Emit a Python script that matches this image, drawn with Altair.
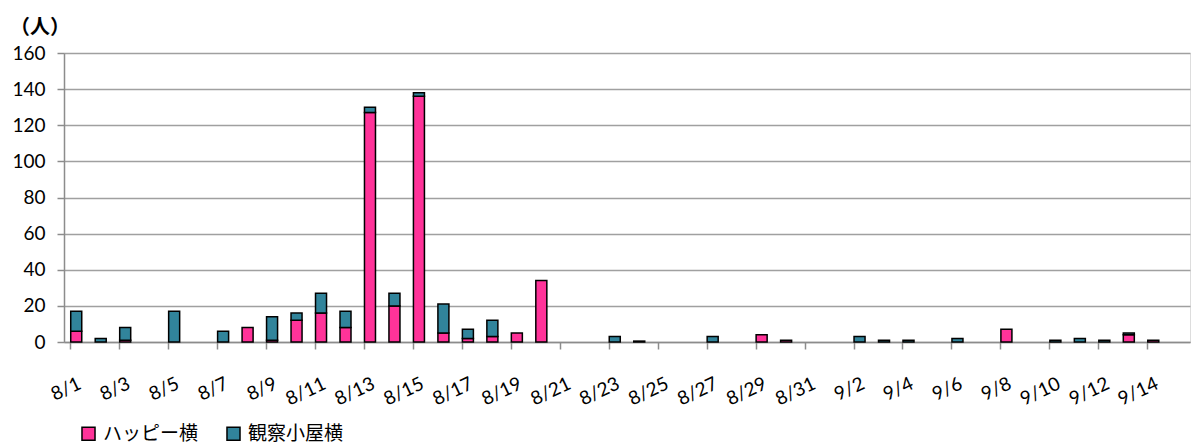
import altair as alt
import pandas as pd

dates = ["8/1", "8/2", "8/3", "8/4", "8/5", "8/6", "8/7", "8/8", "8/9", "8/10",
         "8/11", "8/12", "8/13", "8/14", "8/15", "8/16", "8/17", "8/18", "8/19", "8/20",
         "8/21", "8/22", "8/23", "8/24", "8/25", "8/26", "8/27", "8/28", "8/29", "8/30",
         "8/31", "9/1", "9/2", "9/3", "9/4", "9/5", "9/6", "9/7", "9/8", "9/9",
         "9/10", "9/11", "9/12", "9/13", "9/14", "9/15"]
happy = [6, 0, 1, 0, 0, 0, 0, 8, 1, 12,
         16, 8, 127, 20, 136, 5, 2, 3, 5, 34,
         0, 0, 0, 0, 0, 0, 0, 0, 4, 1,
         0, 0, 0, 0, 0, 0, 0, 0, 7, 0,
         0, 0, 0, 4, 1, 0]
hut = [11, 2, 7, 0, 17, 0, 6, 0, 13, 4,
       11, 9, 3, 7, 2, 16, 5, 9, 0, 0,
       0, 0, 3, 0.5, 0, 0, 3, 0, 0, 0,
       0, 0, 3, 1, 1, 0, 2, 0, 0, 0,
       1, 2, 1, 1, 0, 0]
series = ["ハッピー横", "観察小屋横"]
colors = ["#FF3399", "#31849B"]
label_dates = dates[::2]

rows = []
for i, d in enumerate(dates):
    rows.append({"date": d, "series": series[0], "ord": 0, "value": happy[i]})
    rows.append({"date": d, "series": series[1], "ord": 1, "value": hut[i]})
df = pd.DataFrame(rows)

FONT = "Lato"
CJK = "Noto Sans CJK JP"

chart = alt.Chart(df).transform_filter("datum.value > 0").mark_bar(
    stroke="black", strokeWidth=1.5
).encode(
    x=alt.X("date:N", sort=dates,
            scale=alt.Scale(domain=dates, paddingInner=0.55, paddingOuter=0.275),
            axis=alt.Axis(title=None, values=label_dates, bandPosition=0,
                          labelOffset=0, labelAngle=-25, labelAlign="right",
                          labelBaseline="top", labelPadding=25,
                          labelFont=FONT, labelFontSize=19, labelColor="black",
                          domainColor="#8c8c8c", domainWidth=1.5,
                          tickColor="#8c8c8c", tickWidth=1.5, tickSize=7,
                          grid=False, labelOverlap=False)),
    y=alt.Y("value:Q", stack="zero",
            scale=alt.Scale(domain=[0, 160], nice=False),
            axis=alt.Axis(title=None, values=list(range(0, 161, 20)),
                          labelFont=FONT, labelFontSize=19, labelColor="black",
                          labelPadding=12, tickSize=7, tickColor="#8c8c8c",
                          tickWidth=1.5, domainColor="#8c8c8c", domainWidth=1.5,
                          gridColor="#a0a0a0", gridWidth=1.5)),
    color=alt.Color("series:N", scale=alt.Scale(domain=series, range=colors),
                    legend=alt.Legend(title=None, orient="none", legendX=15,
                                      legendY=371, direction="horizontal",
                                      symbolType="square", symbolSize=170,
                                      symbolStrokeColor="black", symbolStrokeWidth=1.5,
                                      labelFont=CJK, labelFontSize=19,
                                      labelColor="black", columnPadding=24,
                                      labelOffset=5, labelLimit=300)),
    order=alt.Order("ord:Q", sort="ascending"),
).properties(
    width=1126, height=289,
    padding={"left": 64, "top": 53, "right": 2, "bottom": 104},
    autosize=alt.AutoSizeParams(type="none"),
    title=alt.TitleParams("（人）", anchor="start", frame="group", dx=-54,
                          offset=6, font=CJK, fontSize=20, fontWeight="bold",
                          color="black"),
).configure_view(stroke="black", strokeWidth=1.5).configure(background="white")

chart.save("out.html", embed_options={"renderer": "svg", "actions": False})
